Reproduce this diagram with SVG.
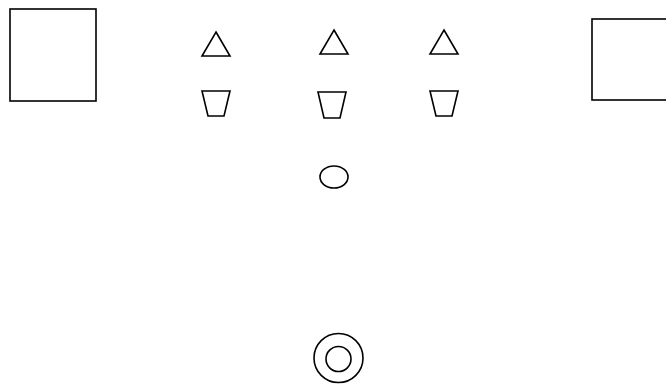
<svg xmlns="http://www.w3.org/2000/svg" width="666" height="384" viewBox="0 0 666 384">
<style>
.s{fill:#fff;stroke:#000;stroke-width:1.6;stroke-linejoin:miter}
</style>
<rect width="666" height="384" fill="#fff"/>
<g id="box-left"><rect class="s" x="10" y="9" width="86" height="92"/></g>
<g id="box-right"><rect class="s" x="592" y="19" width="80" height="81"/></g>
<g id="tri-1"><polygon class="s" points="216,32 230,56 202,56"/></g>
<g id="tri-2"><polygon class="s" points="334,30 348,54 320,54"/></g>
<g id="tri-3"><polygon class="s" points="444,30 458,54 430,54"/></g>
<g id="trap-1"><polygon class="s" points="202,91 230,91 224,116 208,116"/></g>
<g id="trap-2"><polygon class="s" points="318,92 346,92 340,118 324,118"/></g>
<g id="trap-3"><polygon class="s" points="430,91 458,91 452,116 436,116"/></g>
<g id="ellipse"><ellipse class="s" cx="334" cy="177" rx="14" ry="11"/></g>
<g id="target"><circle class="s" cx="338.5" cy="358" r="24.5"/><circle class="s" cx="338.5" cy="359" r="12.5"/></g>
<g id="connectors"></g>
</svg>
